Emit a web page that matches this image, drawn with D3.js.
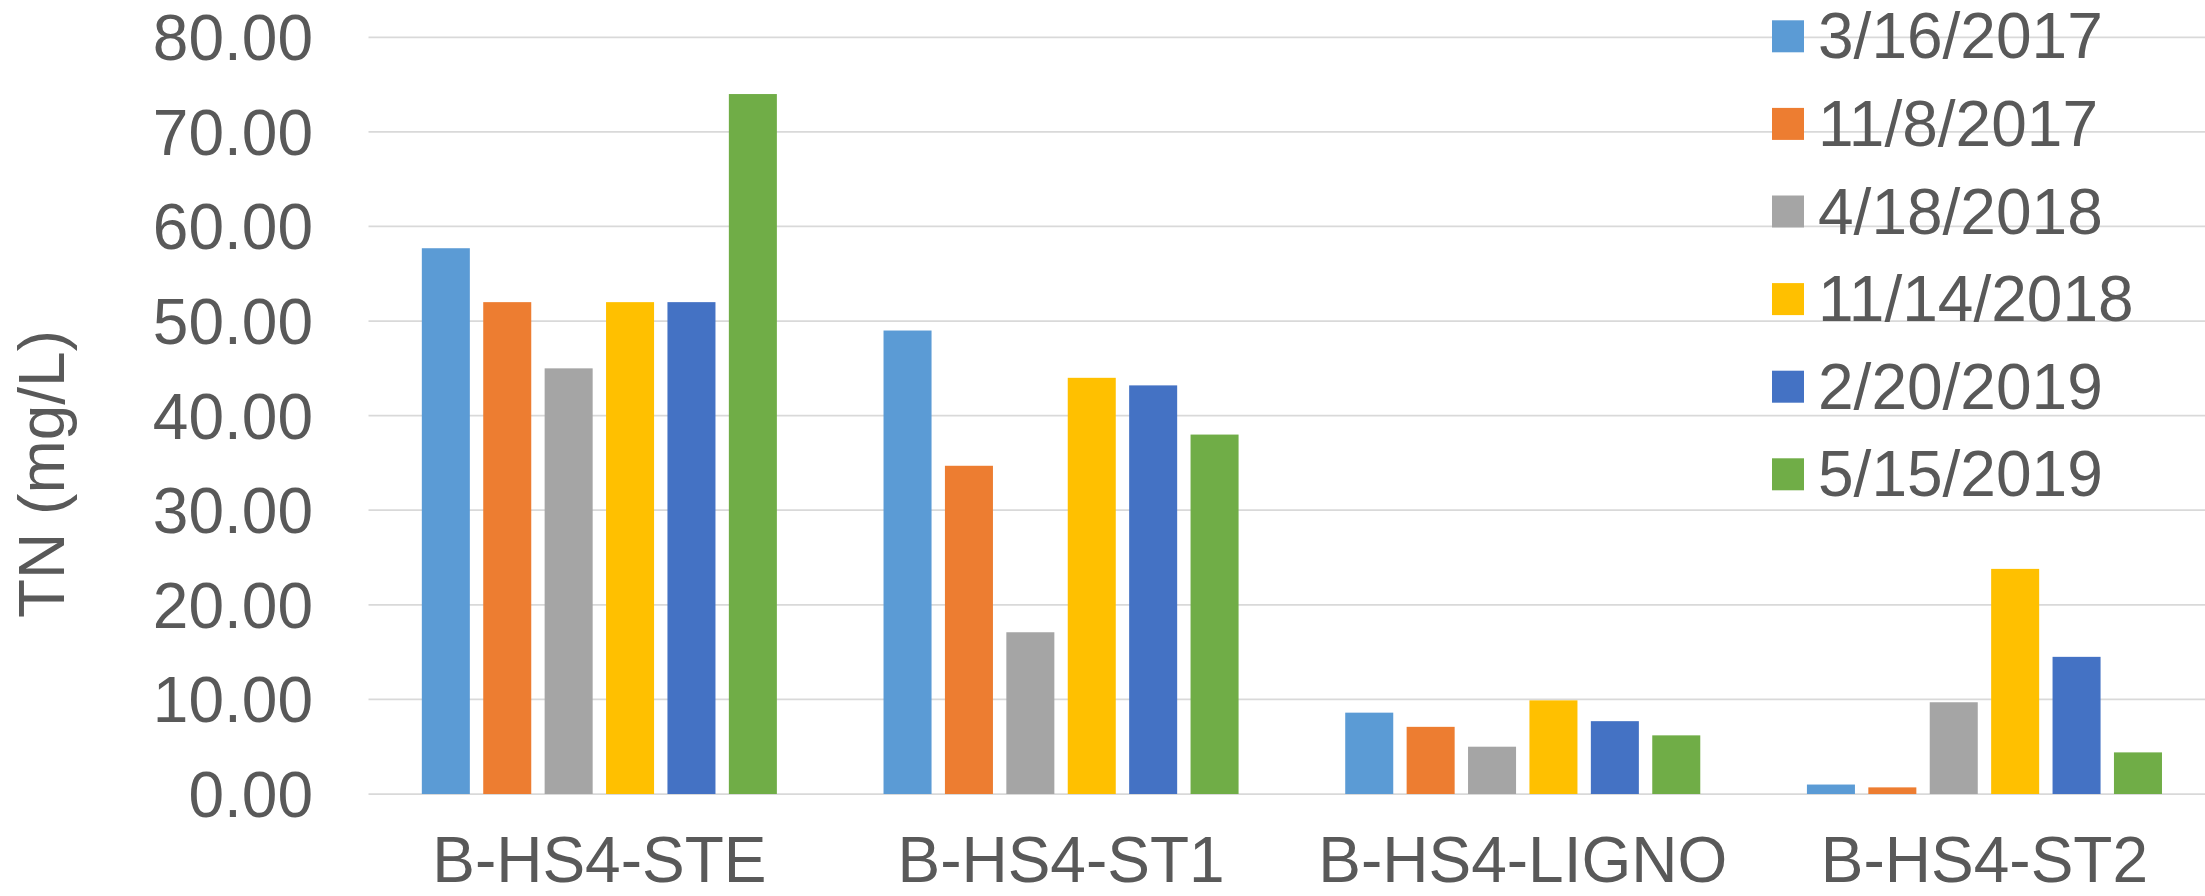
<!DOCTYPE html>
<html>
<head>
<meta charset="utf-8">
<script src="https://cdn.jsdelivr.net/npm/d3@7"></script>
<style>
  html, body { margin: 0; padding: 0; background: #ffffff; }
  svg { display: block; font-family: "Liberation Sans", Arial, Helvetica, sans-serif; }
</style>
</head>
<body>
<svg id="chart" width="2205" height="896"></svg>
<script>
// Sampling sites (x categories)
const sites = ["B-HS4-STE", "B-HS4-ST1", "B-HS4-LIGNO", "B-HS4-ST2"];

// Sampling dates (series)
const dates = ["3/16/2017", "11/8/2017", "4/18/2018", "11/14/2018", "2/20/2019", "5/15/2019"];

// Total nitrogen (mg/L) per date, one value per site
const tn_2017_03_16 = [57.7, 49.0, 8.6, 1.0];
const tn_2017_11_08 = [52.0, 34.7, 7.1, 0.7];
const tn_2018_04_18 = [45.0, 17.1, 5.0, 9.7];
const tn_2018_11_14 = [52.0, 44.0, 9.9, 23.8];
const tn_2019_02_20 = [52.0, 43.2, 7.7, 14.5];
const tn_2019_05_15 = [74.0, 38.0, 6.2, 4.4];

const seriesValues = [tn_2017_03_16, tn_2017_11_08, tn_2018_04_18, tn_2018_11_14, tn_2019_02_20, tn_2019_05_15];

// Y axis ticks
const yTicks = [0, 10, 20, 30, 40, 50, 60, 70, 80];

const colors = ["#5B9BD5", "#ED7D31", "#A5A5A5", "#FFC000", "#4472C4", "#70AD47"];
const textColor = "#595959";
const fontSize = 64;

const svg = d3.select("#chart");

const plot = { left: 368.5, right: 2215.3, top: 37.3, bottom: 794 };

const x0 = d3.scaleBand()
  .domain(sites)
  .range([plot.left, plot.right])
  .paddingInner(0.202)
  .paddingOuter(0.101);

const x1 = d3.scaleBand()
  .domain(dates)
  .range([0, x0.bandwidth()])
  .paddingInner(0.218)
  .paddingOuter(0.109);

const y = d3.scaleLinear()
  .domain([0, 80])
  .range([plot.bottom, plot.top]);

// Horizontal gridlines
svg.append("g")
  .selectAll("line")
  .data(yTicks)
  .join("line")
  .attr("x1", plot.left)
  .attr("x2", 2205)
  .attr("y1", d => y(d))
  .attr("y2", d => y(d))
  .attr("stroke", "#D9D9D9")
  .attr("stroke-width", 1.75);

// Y tick labels
svg.append("g")
  .selectAll("text")
  .data(yTicks)
  .join("text")
  .attr("x", 313)
  .attr("y", d => y(d) + fontSize * 0.358)
  .attr("text-anchor", "end")
  .attr("font-size", fontSize)
  .attr("fill", textColor)
  .text(d => d3.format(".2f")(d));

// Y axis title
svg.append("text")
  .attr("transform", "translate(64,474) rotate(-90)")
  .attr("text-anchor", "middle")
  .attr("font-size", fontSize)
  .attr("fill", textColor)
  .text("TN (mg/L)");

// Grouped bars
const groups = svg.append("g")
  .selectAll("g")
  .data(sites)
  .join("g")
  .attr("transform", d => `translate(${x0(d)},0)`);

groups.selectAll("rect")
  .data((site, i) => dates.map((date, j) => ({ date, j, value: seriesValues[j][i] })))
  .join("rect")
  .attr("x", d => x1(d.date))
  .attr("width", x1.bandwidth())
  .attr("y", d => y(d.value))
  .attr("height", d => y(0) - y(d.value))
  .attr("fill", d => colors[d.j]);

// X category labels
svg.append("g")
  .selectAll("text")
  .data(sites)
  .join("text")
  .attr("x", d => x0(d) + x0.bandwidth() / 2)
  .attr("y", 882)
  .attr("text-anchor", "middle")
  .attr("font-size", fontSize)
  .attr("fill", textColor)
  .text(d => d);

// Legend
const legend = svg.append("g")
  .selectAll("g")
  .data(dates)
  .join("g")
  .attr("transform", (d, i) => `translate(1772,${36.3 + i * 87.6})`);

legend.append("rect")
  .attr("x", 0)
  .attr("y", -16)
  .attr("width", 32)
  .attr("height", 32)
  .attr("fill", (d, i) => colors[i]);

legend.append("text")
  .attr("x", 46)
  .attr("y", 22)
  .attr("font-size", fontSize)
  .attr("fill", textColor)
  .text(d => d);
</script>
</body>
</html>
